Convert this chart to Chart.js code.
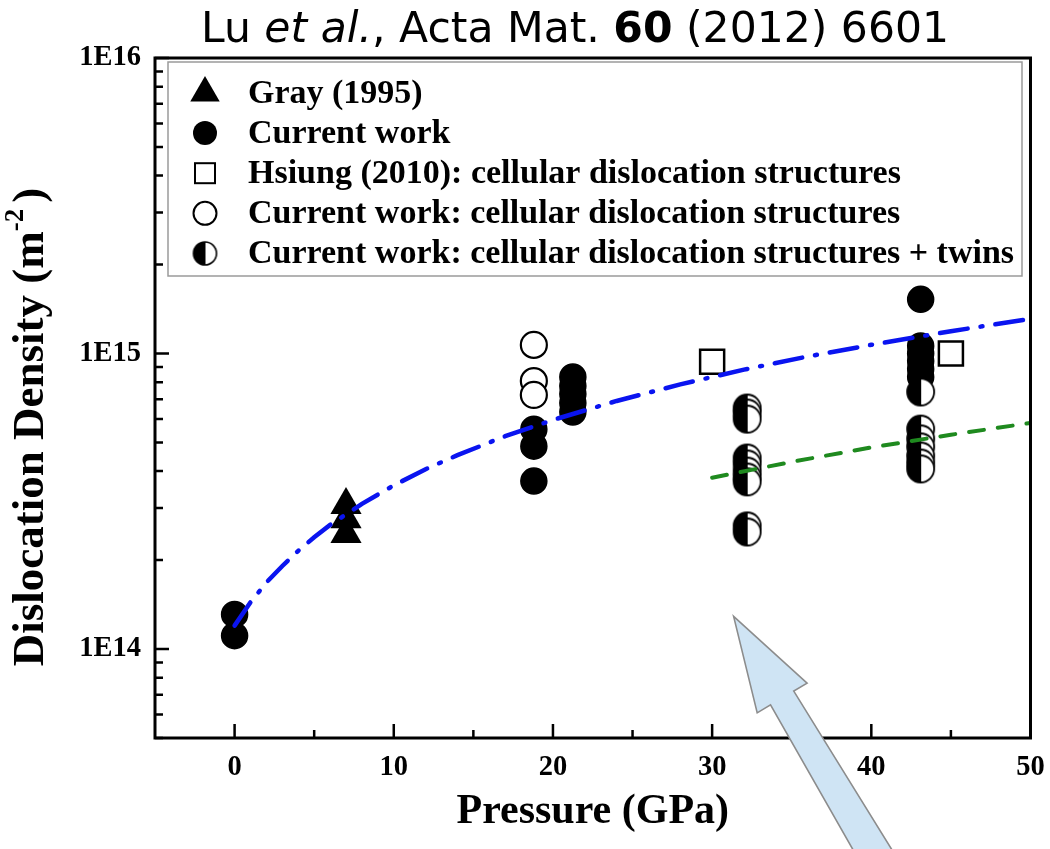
<!DOCTYPE html>
<html>
<head>
<meta charset="utf-8">
<title>Dislocation density vs pressure</title>
<script src="https://cdn.jsdelivr.net/npm/chart.js@4/dist/chart.umd.min.js"></script>
<style>
  html, body { margin: 0; padding: 0; background: #ffffff; }
  canvas { display: block; }
</style>
</head>
<body>
<canvas id="chart" width="1050" height="849"></canvas>
<script>
// ---- data (pressure in GPa, dislocation density in m^-2) ----
const grayPressure = [7, 7, 7];
const grayDensity = [3.07e14, 2.75e14, 2.45e14];

const workPressure = [0, 0, 18.8, 18.8, 18.8, 21.25, 21.25, 21.25, 21.25, 21.25,
                      43.1, 43.1, 43.1, 43.1, 43.1, 43.1];
const workDensity = [1.31e14, 1.11e14, 5.54e14, 4.86e14, 3.70e14,
                     8.33e14, 7.76e14, 7.30e14, 6.80e14, 6.34e14,
                     1.525e15, 1.06e15, 1.00e15, 9.44e14, 8.87e14, 8.33e14];

const hsiungPressure = [30, 45];
const hsiungDensity = [9.38e14, 1.0e15];

const cellPressure = [18.8, 18.8, 18.8];
const cellDensity = [1.069e15, 8.07e14, 7.24e14];

const twinPressure = [32.2, 32.2, 32.2, 32.2, 32.2, 32.2, 32.2, 32.2, 32.2, 32.2,
                      43.1, 43.1, 43.1, 43.1, 43.1, 43.1, 43.1];
const twinDensity = [6.54e14, 6.29e14, 6.00e14, 4.43e14, 4.23e14, 4.00e14, 3.82e14, 3.68e14, 2.61e14, 2.49e14,
                     7.41e14, 5.55e14, 5.14e14, 4.83e14, 4.50e14, 4.26e14, 4.07e14];

// trend curves
const trendAllPressure = [0, 1, 2, 3, 4, 5, 6, 8, 10, 12, 14, 17, 20, 24, 28, 32, 36, 40, 45, 50];
const trendAllDensity = [1.20e14, 1.44e14, 1.68e14, 1.91e14, 2.15e14, 2.39e14, 2.63e14, 3.10e14,
                         3.58e14, 4.06e14, 4.53e14, 5.25e14, 5.96e14, 6.91e14, 7.86e14, 8.82e14,
                         9.77e14, 1.07e15, 1.19e15, 1.31e15];
const trendTwinPressure = [30, 35, 40, 45, 50];
const trendTwinDensity = [3.80e14, 4.30e14, 4.81e14, 5.31e14, 5.82e14];

// axes
const pressureTicks = [0, 10, 20, 30, 40, 50];
const pressureLabels = ['0', '10', '20', '30', '40', '50'];
const densityTicks = [1e14, 1e15, 1e16];
const densityLabels = ['1E14', '1E15', '1E16'];

const legendLabels = [
  'Gray (1995)',
  'Current work',
  'Hsiung (2010): cellular dislocation structures',
  'Current work: cellular dislocation structures',
  'Current work: cellular dislocation structures + twins'
];

// annotation arrow tip (GPa, m^-2)
const arrowTip = { pressure: 31.35, density: 1.29e14 };

// ---- styling ----
const SERIF = '"Liberation Serif", "Times New Roman", serif';
const SANS = '"DejaVu Sans", sans-serif';

function toPoints(xs, ys) { return xs.map((x, i) => ({ x: x, y: ys[i] })); }

// half-filled circle marker
function makeHalfCircle(r, lw) {
  const s = Math.ceil(2 * r + lw + 2);
  const c = document.createElement('canvas');
  c.width = s; c.height = s;
  const g = c.getContext('2d');
  const cx = s / 2, cy = s / 2;
  g.beginPath(); g.arc(cx, cy, r, 0, Math.PI * 2); g.fillStyle = '#ffffff'; g.fill();
  g.beginPath(); g.moveTo(cx, cy); g.arc(cx, cy, r, Math.PI / 2, Math.PI * 1.5, false); g.closePath();
  g.fillStyle = '#000000'; g.fill();
  g.beginPath(); g.moveTo(cx, cy - r); g.lineTo(cx, cy + r);
  g.lineWidth = 1; g.strokeStyle = '#000000'; g.stroke();
  g.beginPath(); g.arc(cx, cy, r, 0, Math.PI * 2);
  g.lineWidth = lw; g.strokeStyle = '#000000'; g.stroke();
  return c;
}
const halfMarker = makeHalfCircle(13.5, 1.8);
const halfMarkerLegend = makeHalfCircle(11.5, 1.6);

// ---- drawing helpers for plugin ----
function drawRuns(ctx, runs, cx, baseline) {
  let total = 0;
  runs.forEach(r => { ctx.font = r.font; r.w = ctx.measureText(r.t).width; total += r.w + (r.gap || 0); });
  let x = cx - total / 2;
  ctx.textAlign = 'left';
  ctx.textBaseline = 'alphabetic';
  runs.forEach(r => {
    ctx.font = r.font;
    ctx.fillText(r.t, x, baseline - (r.rise || 0));
    x += r.w + (r.gap || 0);
  });
}

function legendMarker(ctx, kind, x, y) {
  ctx.save();
  ctx.fillStyle = '#000'; ctx.strokeStyle = '#000';
  if (kind === 0) {
    const r = 17;
    ctx.beginPath();
    ctx.moveTo(x, y - r);
    ctx.lineTo(x + r * 0.866, y + r / 2);
    ctx.lineTo(x - r * 0.866, y + r / 2);
    ctx.closePath(); ctx.fill();
  } else if (kind === 1) {
    ctx.beginPath(); ctx.arc(x, y, 12, 0, Math.PI * 2); ctx.fill();
  } else if (kind === 2) {
    ctx.lineWidth = 2; ctx.fillStyle = '#fff';
    ctx.fillRect(x - 10, y - 10, 20, 20); ctx.strokeRect(x - 10, y - 10, 20, 20);
  } else if (kind === 3) {
    ctx.lineWidth = 2; ctx.fillStyle = '#fff';
    ctx.beginPath(); ctx.arc(x, y, 11.5, 0, Math.PI * 2); ctx.fill(); ctx.stroke();
  } else {
    ctx.drawImage(halfMarkerLegend, x - halfMarkerLegend.width / 2, y - halfMarkerLegend.height / 2);
  }
  ctx.restore();
}

const decorations = {
  id: 'decorations',
  afterDraw(chart) {
    const ctx = chart.ctx;
    const a = chart.chartArea;
    const xs = chart.scales.x, ys = chart.scales.y;
    ctx.save();

    // inward tick marks
    ctx.strokeStyle = '#000'; ctx.lineWidth = 2.5; ctx.lineCap = 'butt';
    const majorLen = 14, minorLen = 8;
    ctx.beginPath();
    pressureTicks.forEach((v, i) => {
      const px = xs.getPixelForValue(v);
      ctx.moveTo(px, a.bottom); ctx.lineTo(px, a.bottom - majorLen);
      const mid = v + (pressureTicks[1] - pressureTicks[0]) / 2;
      if (i < pressureTicks.length - 1) {
        const pm = xs.getPixelForValue(mid);
        ctx.moveTo(pm, a.bottom); ctx.lineTo(pm, a.bottom - minorLen);
      }
    });
    const yMin = ys.min, yMax = ys.max;
    for (let e = Math.floor(Math.log10(yMin)); e <= Math.ceil(Math.log10(yMax)); e++) {
      for (let k = 1; k <= 9; k++) {
        const v = k * Math.pow(10, e);
        if (v < yMin * 0.999 || v > yMax * 1.001) continue;
        const py = ys.getPixelForValue(v);
        ctx.moveTo(a.left, py); ctx.lineTo(a.left + (k === 1 ? majorLen : minorLen), py);
      }
    }
    ctx.stroke();

    // plot frame
    ctx.lineWidth = 3;
    ctx.strokeRect(a.left, a.top, a.right - a.left, a.bottom - a.top);

    // legend box
    const lb = { left: 168, top: 62, right: 1022, bottom: 276 };
    ctx.fillStyle = '#fff';
    ctx.fillRect(lb.left, lb.top, lb.right - lb.left, lb.bottom - lb.top);
    ctx.strokeStyle = '#9a9a9a'; ctx.lineWidth = 1.5;
    ctx.strokeRect(lb.left, lb.top, lb.right - lb.left, lb.bottom - lb.top);
    legendLabels.forEach((t, i) => {
      const y = 93 + i * 40.1;
      legendMarker(ctx, i, 205, y);
      ctx.fillStyle = '#000';
      ctx.font = 'bold 34px ' + SERIF;
      ctx.textAlign = 'left'; ctx.textBaseline = 'middle';
      ctx.fillText(t, 248, y + 1);
    });

    // title
    ctx.fillStyle = '#000';
    drawRuns(ctx, [
      { t: 'Lu ', font: '42.5px ' + SANS },
      { t: 'et al.', font: 'italic 42.5px ' + SANS },
      { t: ', Acta Mat. ', font: '42.5px ' + SANS },
      { t: '60', font: 'bold 42.5px ' + SANS },
      { t: ' (2012) 6601', font: '42.5px ' + SANS }
    ], 575, 42);

    // x axis title
    drawRuns(ctx, [{ t: 'Pressure (GPa)', font: 'bold 42px ' + SERIF }], (a.left + a.right) / 2, 823);

    // y axis title (rotated)
    ctx.save();
    ctx.translate(43, 427);
    ctx.rotate(-Math.PI / 2);
    drawRuns(ctx, [
      { t: 'Dislocation Density (m', font: 'bold 45px ' + SERIF },
      { t: '-2', font: 'bold 27px ' + SERIF, rise: 20, gap: 6 },
      { t: ')', font: 'bold 45px ' + SERIF }
    ], 0, 0);
    ctx.restore();

    // annotation arrow
    const tx = xs.getPixelForValue(arrowTip.pressure);
    const ty = ys.getPixelForValue(arrowTip.density);
    const dir = [139, 234];
    const dl = Math.hypot(dir[0], dir[1]);
    const u = [dir[0] / dl, dir[1] / dl];
    const n = [-u[1], u[0]];
    const headLen = 95, headHalf = 29, shaftTop = 13.5, shaftEnd = 17.6, len = 320;
    const pt = (along, side) => [tx + u[0] * along + n[0] * side, ty + u[1] * along + n[1] * side];
    const poly = [pt(0, 0), pt(headLen, headHalf), pt(headLen, shaftTop), pt(len, shaftEnd),
                  pt(len, -shaftEnd), pt(headLen, -shaftTop), pt(headLen, -headHalf)];
    ctx.beginPath();
    poly.forEach((p, i) => i ? ctx.lineTo(p[0], p[1]) : ctx.moveTo(p[0], p[1]));
    ctx.closePath();
    ctx.fillStyle = '#cfe4f4'; ctx.fill();
    ctx.strokeStyle = '#8c8c8c'; ctx.lineWidth = 1.6; ctx.lineJoin = 'miter'; ctx.stroke();

    ctx.restore();
  }
};

const markerBase = { showLine: false, borderColor: '#000000' };

function noScalePadding(s) {
  s.paddingLeft = 0; s.paddingRight = 0; s.paddingTop = 0; s.paddingBottom = 0;
}

new Chart(document.getElementById('chart'), {
  type: 'scatter',
  data: {
    datasets: [
      {
        label: 'fit all', data: toPoints(trendAllPressure, trendAllDensity), showLine: true,
        borderColor: '#0a14f0', borderWidth: 4.5, borderDash: [28, 13, 2, 13], borderCapStyle: 'round',
        pointRadius: 0, order: 0, tension: 0
      },
      {
        label: 'fit twins', data: toPoints(trendTwinPressure, trendTwinDensity), showLine: true,
        borderColor: '#1f8a1f', borderWidth: 4, borderDash: [15, 14], borderCapStyle: 'round',
        pointRadius: 0, order: 0, tension: 0
      },
      Object.assign({}, markerBase, {
        label: legendLabels[0], data: toPoints(grayPressure, grayDensity),
        pointStyle: 'triangle', pointRadius: 18, pointBackgroundColor: '#000', pointBorderWidth: 0, order: 3
      }),
      Object.assign({}, markerBase, {
        label: legendLabels[1], data: toPoints(workPressure, workDensity),
        pointStyle: 'circle', pointRadius: 13, pointBackgroundColor: '#000', pointBorderWidth: 1.5, order: 3
      }),
      Object.assign({}, markerBase, {
        label: legendLabels[2], data: toPoints(hsiungPressure, hsiungDensity),
        pointStyle: 'rect', pointRadius: 17, pointBackgroundColor: '#fff', pointBorderWidth: 2.5, order: 2
      }),
      Object.assign({}, markerBase, {
        label: legendLabels[3], data: toPoints(cellPressure, cellDensity),
        pointStyle: 'circle', pointRadius: 13, pointBackgroundColor: '#fff', pointBorderWidth: 2.2, order: 2
      }),
      Object.assign({}, markerBase, {
        label: legendLabels[4], data: toPoints(twinPressure, twinDensity),
        pointStyle: halfMarker, pointRadius: 13, order: 1
      })
    ]
  },
  options: {
    responsive: false,
    animation: false,
    events: [],
    layout: { padding: { top: 58, right: 16, left: 0, bottom: 0 } },
    plugins: { legend: { display: false }, tooltip: { enabled: false }, title: { display: false } },
    scales: {
      x: {
        type: 'linear', min: -5, max: 50,
        grid: { display: false, drawTicks: false }, border: { display: false },
        afterBuildTicks: s => { s.ticks = pressureTicks.map(v => ({ value: v })); },
        afterFit: s => { s.height = 111; noScalePadding(s); },
        ticks: {
          autoSkip: false, maxRotation: 0, padding: 13, color: '#000',
          font: { family: SERIF, size: 28.5, weight: 'bold' },
          callback: (v, i) => pressureLabels[i]
        }
      },
      y: {
        type: 'logarithmic', min: 5e13, max: 1e16,
        grid: { display: false, drawTicks: false }, border: { display: false },
        afterBuildTicks: s => { s.ticks = densityTicks.map(v => ({ value: v })); },
        afterFit: s => { s.width = 155; noScalePadding(s); },
        ticks: {
          autoSkip: false, padding: 14, color: '#000',
          font: { family: SERIF, size: 28.5, weight: 'bold' },
          callback: (v, i) => densityLabels[i]
        }
      }
    }
  },
  plugins: [decorations]
});
</script>
</body>
</html>
